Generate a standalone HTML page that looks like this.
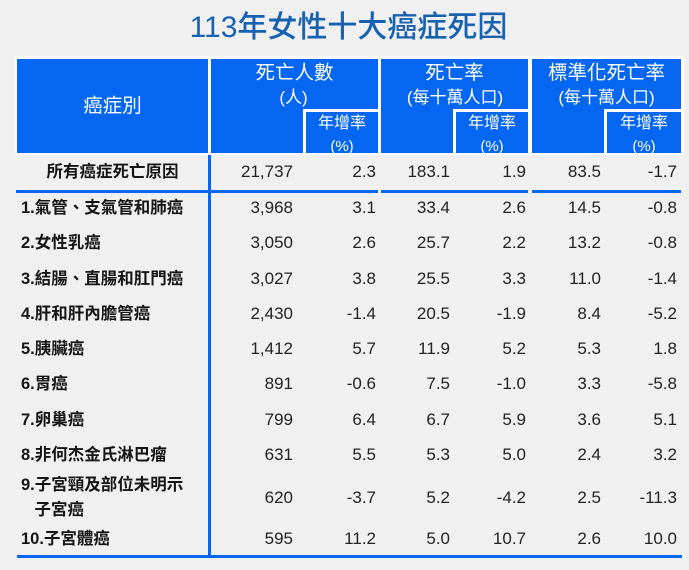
<!DOCTYPE html>
<html><head><meta charset="utf-8">
<style>
html,body{margin:0;padding:0;}
body{width:689px;height:570px;background:#f0f0f0;position:relative;overflow:hidden;font-family:"Liberation Sans","Noto Sans CJK TC",sans-serif;}
.a{position:absolute;}
.t{position:absolute;height:20px;line-height:20px;white-space:nowrap;}
.h{color:#fff;text-align:center;}
.b{background:#0566f2;position:absolute;}
.w{background:#fff;position:absolute;}
.l{font-size:16.5px;font-weight:bold;color:#151515;left:21px;}
.v{font-size:17px;color:#222;text-align:right;width:100px;}
</style></head><body>
<div class="t" style="left:0;width:697px;top:12px;height:32px;line-height:32px;text-align:center;font-size:30px;font-weight:500;color:#1661b0;">113年女性十大癌症死因</div>

<!-- header -->
<div class="w" style="left:15px;top:56px;width:669px;height:99px;"></div>
<div class="b" style="left:17px;top:59px;width:190.5px;height:94px;"></div>
<div class="b" style="left:211px;top:59px;width:167px;height:94px;"></div>
<div class="b" style="left:381px;top:59px;width:147px;height:94px;"></div>
<div class="b" style="left:532px;top:59px;width:149px;height:94px;"></div>
<div class="w" style="left:303px;top:109px;width:3px;height:44px;"></div>
<div class="w" style="left:303px;top:109px;width:75px;height:3px;"></div>
<div class="w" style="left:453px;top:109px;width:3px;height:44px;"></div>
<div class="w" style="left:453px;top:109px;width:75px;height:3px;"></div>
<div class="w" style="left:604px;top:109px;width:3px;height:44px;"></div>
<div class="w" style="left:604px;top:109px;width:77px;height:3px;"></div>

<div class="t h" style="left:17px;width:191px;top:96px;font-size:19.5px;">癌症別</div>
<div class="t h" style="left:211px;width:167px;top:63px;font-size:19.5px;">死亡人數</div>
<div class="t h" style="left:211px;width:165px;top:88px;font-size:17px;">(人)</div>
<div class="t h" style="left:306px;width:72px;top:114px;font-size:16px;">年增率</div>
<div class="t h" style="left:306px;width:72px;top:137px;font-size:15px;">(%)</div>

<div class="t h" style="left:381px;width:147px;top:63px;font-size:19.5px;">死亡率</div>
<div class="t h" style="left:381px;width:148px;top:88px;font-size:17px;">(每十萬人口)</div>
<div class="t h" style="left:456px;width:72px;top:114px;font-size:16px;">年增率</div>
<div class="t h" style="left:456px;width:72px;top:137px;font-size:15px;">(%)</div>

<div class="t h" style="left:532px;width:149px;top:63px;font-size:19.5px;">標準化死亡率</div>
<div class="t h" style="left:532px;width:149px;top:88px;font-size:17px;">(每十萬人口)</div>
<div class="t h" style="left:607px;width:74px;top:114px;font-size:16px;">年增率</div>
<div class="t h" style="left:607px;width:74px;top:137px;font-size:15px;">(%)</div>

<!-- lines -->
<div class="b" style="left:208px;top:155px;width:3px;height:401px;"></div>
<div class="b" style="left:16px;top:190px;width:362px;height:2.5px;"></div>
<div class="b" style="left:381px;top:190px;width:147px;height:2.5px;"></div>
<div class="b" style="left:532px;top:190px;width:149px;height:2.5px;"></div>
<div class="b" style="left:17px;top:554.5px;width:665px;height:3px;"></div>

<!-- row 0 -->
<div class="t l" style="left:17px;width:191px;text-align:center;top:162px;">所有癌症死亡原因</div>
<div class="t v" style="left:193px;top:162px;">21,737</div>
<div class="t v" style="left:276px;top:162px;">2.3</div>
<div class="t v" style="left:350px;top:162px;">183.1</div>
<div class="t v" style="left:426px;top:162px;">1.9</div>
<div class="t v" style="left:501px;top:162px;">83.5</div>
<div class="t v" style="left:577px;top:162px;">-1.7</div>

<!-- row 1 -->
<div class="t l" style="top:198px;">1.氣管、支氣管和肺癌</div>
<div class="t v" style="left:193px;top:198px;">3,968</div>
<div class="t v" style="left:276px;top:198px;">3.1</div>
<div class="t v" style="left:350px;top:198px;">33.4</div>
<div class="t v" style="left:426px;top:198px;">2.6</div>
<div class="t v" style="left:501px;top:198px;">14.5</div>
<div class="t v" style="left:577px;top:198px;">-0.8</div>

<!-- row 2 -->
<div class="t l" style="top:233px;">2.女性乳癌</div>
<div class="t v" style="left:193px;top:233px;">3,050</div>
<div class="t v" style="left:276px;top:233px;">2.6</div>
<div class="t v" style="left:350px;top:233px;">25.7</div>
<div class="t v" style="left:426px;top:233px;">2.2</div>
<div class="t v" style="left:501px;top:233px;">13.2</div>
<div class="t v" style="left:577px;top:233px;">-0.8</div>

<!-- row 3 -->
<div class="t l" style="top:269px;">3.結腸、直腸和肛門癌</div>
<div class="t v" style="left:193px;top:269px;">3,027</div>
<div class="t v" style="left:276px;top:269px;">3.8</div>
<div class="t v" style="left:350px;top:269px;">25.5</div>
<div class="t v" style="left:426px;top:269px;">3.3</div>
<div class="t v" style="left:501px;top:269px;">11.0</div>
<div class="t v" style="left:577px;top:269px;">-1.4</div>

<!-- row 4 -->
<div class="t l" style="top:304px;">4.肝和肝內膽管癌</div>
<div class="t v" style="left:193px;top:304px;">2,430</div>
<div class="t v" style="left:276px;top:304px;">-1.4</div>
<div class="t v" style="left:350px;top:304px;">20.5</div>
<div class="t v" style="left:426px;top:304px;">-1.9</div>
<div class="t v" style="left:501px;top:304px;">8.4</div>
<div class="t v" style="left:577px;top:304px;">-5.2</div>

<!-- row 5 -->
<div class="t l" style="top:339px;">5.胰臟癌</div>
<div class="t v" style="left:193px;top:339px;">1,412</div>
<div class="t v" style="left:276px;top:339px;">5.7</div>
<div class="t v" style="left:350px;top:339px;">11.9</div>
<div class="t v" style="left:426px;top:339px;">5.2</div>
<div class="t v" style="left:501px;top:339px;">5.3</div>
<div class="t v" style="left:577px;top:339px;">1.8</div>

<!-- row 6 -->
<div class="t l" style="top:374px;">6.胃癌</div>
<div class="t v" style="left:193px;top:374px;">891</div>
<div class="t v" style="left:276px;top:374px;">-0.6</div>
<div class="t v" style="left:350px;top:374px;">7.5</div>
<div class="t v" style="left:426px;top:374px;">-1.0</div>
<div class="t v" style="left:501px;top:374px;">3.3</div>
<div class="t v" style="left:577px;top:374px;">-5.8</div>

<!-- row 7 -->
<div class="t l" style="top:410px;">7.卵巢癌</div>
<div class="t v" style="left:193px;top:410px;">799</div>
<div class="t v" style="left:276px;top:410px;">6.4</div>
<div class="t v" style="left:350px;top:410px;">6.7</div>
<div class="t v" style="left:426px;top:410px;">5.9</div>
<div class="t v" style="left:501px;top:410px;">3.6</div>
<div class="t v" style="left:577px;top:410px;">5.1</div>

<!-- row 8 -->
<div class="t l" style="top:445px;">8.非何杰金氏淋巴瘤</div>
<div class="t v" style="left:193px;top:445px;">631</div>
<div class="t v" style="left:276px;top:445px;">5.5</div>
<div class="t v" style="left:350px;top:445px;">5.3</div>
<div class="t v" style="left:426px;top:445px;">5.0</div>
<div class="t v" style="left:501px;top:445px;">2.4</div>
<div class="t v" style="left:577px;top:445px;">3.2</div>

<!-- row 9 -->
<div class="t l" style="top:475px;">9.子宮頸及部位未明示</div>
<div class="t l" style="left:34.5px;top:500px;">子宮癌</div>
<div class="t v" style="left:193px;top:488px;">620</div>
<div class="t v" style="left:276px;top:488px;">-3.7</div>
<div class="t v" style="left:350px;top:488px;">5.2</div>
<div class="t v" style="left:426px;top:488px;">-4.2</div>
<div class="t v" style="left:501px;top:488px;">2.5</div>
<div class="t v" style="left:577px;top:488px;">-11.3</div>

<!-- row 10 -->
<div class="t l" style="top:529px;">10.子宮體癌</div>
<div class="t v" style="left:193px;top:529px;">595</div>
<div class="t v" style="left:276px;top:529px;">11.2</div>
<div class="t v" style="left:350px;top:529px;">5.0</div>
<div class="t v" style="left:426px;top:529px;">10.7</div>
<div class="t v" style="left:501px;top:529px;">2.6</div>
<div class="t v" style="left:577px;top:529px;">10.0</div>
</body></html>
